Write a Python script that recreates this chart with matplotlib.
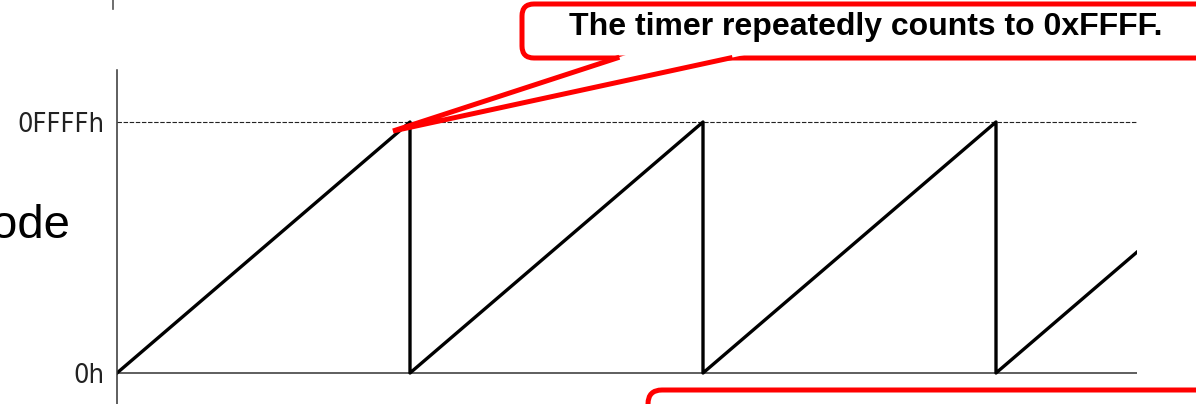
import matplotlib
matplotlib.use("Agg")
import matplotlib.pyplot as plt
from matplotlib.patches import FancyBboxPatch, Polygon

# timer count (sawtooth), time in periods
t = [0, 1, 1, 2, 2, 3, 3, 3.48]
count = [0, 0xFFFF, 0, 0xFFFF, 0, 0xFFFF, 0, 31500]
tick_vals = [0, 0xFFFF]
tick_labels = ["0h", "0FFFFh"]
callout_text = "The timer repeatedly counts to 0xFFFF."
side_text = "ode"

W, H = 1196, 404
fig = plt.figure(figsize=(W / 100, H / 100), dpi=100)

# main axes: x=0 at px 117, one period = 293 px; y=0 at px 373, 0xFFFF at px 122
ax = fig.add_axes([117 / W, 0, 1020 / W, 334 / H])
per_px = 65535 / 251.0
ax.set_xlim(0, 1020 / 293.0)
ax.set_ylim(-31 * per_px, 65535 + 52 * per_px)
for s in ["top", "right", "bottom"]:
    ax.spines[s].set_visible(False)
ax.spines["left"].set_linewidth(1.1)
ax.spines["left"].set_color("#333333")
ax.set_xticks([])
ax.set_yticks(tick_vals)
ax.set_yticklabels(tick_labels, family="DejaVu Sans", stretch="condensed",
                   fontsize=19.5, color="#222222")
ax.tick_params(axis="y", length=0, pad=9)

ax.axhline(0, color="#333333", lw=1.1)
ax.axhline(0xFFFF, color="#222222", lw=0.8, ls=(0, (4, 1.5)))
ax.plot(t, count, color="black", lw=2.4)

# overlay in pixel coordinates for callouts / text
ov = fig.add_axes([0, 0, 1, 1], zorder=5)
ov.set_xlim(0, W)
ov.set_ylim(H, 0)
ov.axis("off")
ov.patch.set_alpha(0)

red = "#ff0000"
box = FancyBboxPatch((522, 4), 720, 54, boxstyle="round,pad=0,rounding_size=12",
                     fc="white", ec=red, lw=3.6)
ov.add_patch(box)
ov.add_patch(Polygon([(635, 52), (393, 131), (758, 52)], closed=True,
                     fc="white", ec="none"))
ov.plot([617, 393, 730], [58, 131, 58], color=red, lw=3.6, solid_joinstyle="miter")
ov.text(866, 27, callout_text, ha="center", va="center", fontsize=23,
        fontweight="bold", family=["Liberation Sans", "DejaVu Sans"])

box2 = FancyBboxPatch((648, 390), 700, 100, boxstyle="round,pad=0,rounding_size=14",
                      fc="white", ec=red, lw=3.6)
ov.add_patch(box2)

ov.text(70, 226, side_text, ha="right", va="center", fontsize=34,
        family=["Liberation Sans", "DejaVu Sans"])
ov.plot([113, 113], [0, 9], color="#555555", lw=1.2)

fig.savefig("out.png", dpi=100)
